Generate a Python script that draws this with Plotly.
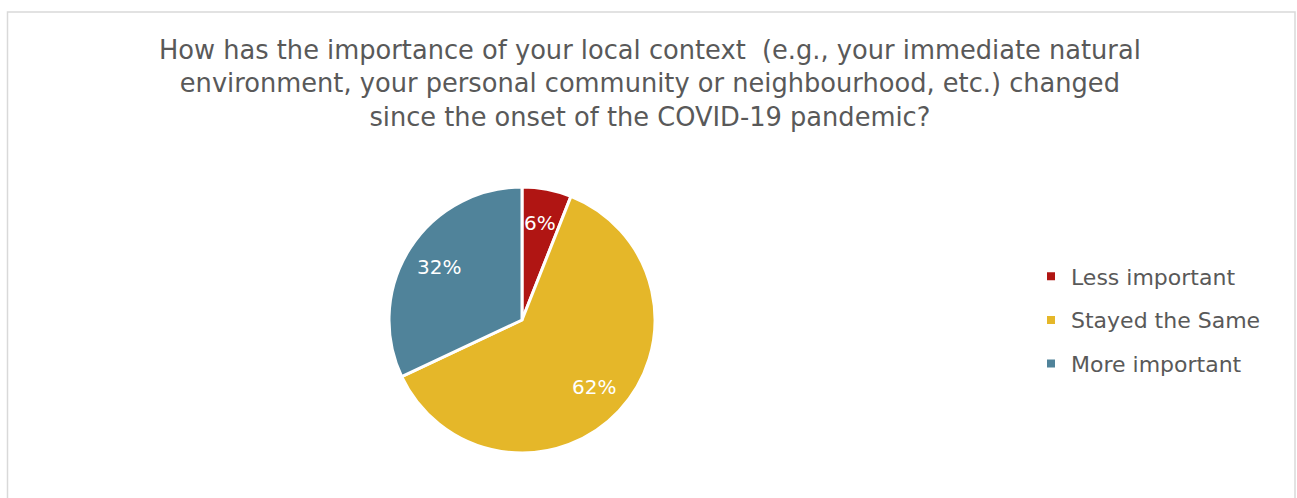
import math
import plotly.graph_objects as go

# Survey responses: change in importance of local context
categories = ["Less important", "Stayed the Same", "More important"]
shares = [6, 62, 32]
slice_colors = ["#B01513", "#E5B729", "#50839A"]

title_lines = [
    "How has the importance of your local context  (e.g., your immediate natural",
    "environment, your personal community or neighbourhood, etc.) changed",
    "since the onset of the COVID-19 pandemic?",
]

W, H = 1297, 498
FONT = "DejaVu Sans"
TEXT_GREY = "#595959"

# pie geometry in pixels
cx, cy, r = 522, 320, 133

fig = go.Figure()
fig.add_trace(
    go.Pie(
        labels=categories,
        values=shares,
        sort=False,
        direction="clockwise",
        rotation=0,
        marker=dict(colors=slice_colors, line=dict(color="white", width=3)),
        textinfo="none",
        showlegend=False,
        domain=dict(x=[(cx - r) / W, (cx + r) / W], y=[(H - cy - r) / H, (H - cy + r) / H]),
        hoverinfo="label+percent",
    )
)

# legend entries as invisible-axis scatter markers so the row spacing can be set
for name, color in zip(categories, slice_colors):
    fig.add_trace(
        go.Scatter(
            x=[None],
            y=[None],
            mode="markers",
            name=name,
            legendgroup=name,
            marker=dict(symbol="square", size=8, color=color),
        )
    )

# percentage labels placed along each slice's mid angle
annotations = []
total = sum(shares)
start = 0.0
for v in shares:
    mid = (start + v / 2) / total * 2 * math.pi
    start += v
    px = cx + 0.74 * r * math.sin(mid)
    py = cy - 0.74 * r * math.cos(mid)
    annotations.append(
        dict(
            x=px / W,
            y=1 - py / H,
            xref="paper",
            yref="paper",
            text=f"{v}%",
            showarrow=False,
            font=dict(family=FONT, size=20, color="white"),
            xanchor="center",
            yanchor="middle",
        )
    )

annotations.append(
    dict(
        x=650 / W,
        y=1 - 33 / H,
        xref="paper",
        yref="paper",
        text="<br>".join(title_lines),
        showarrow=False,
        xanchor="center",
        yanchor="top",
        align="center",
        font=dict(family=FONT, size=25.7, color=TEXT_GREY),
    )
)

fig.update_layout(
    width=W,
    height=H,
    margin=dict(l=0, r=0, t=0, b=0),
    paper_bgcolor="white",
    plot_bgcolor="white",
    font=dict(family=FONT, color=TEXT_GREY),
    xaxis=dict(visible=False),
    yaxis=dict(visible=False),
    annotations=annotations,
    legend=dict(
        x=1031 / W,
        xanchor="left",
        y=1 - 320 / H,
        yanchor="middle",
        font=dict(family=FONT, size=22, color=TEXT_GREY),
        tracegroupgap=12,
        itemwidth=30,
    ),
    shapes=[
        dict(
            type="rect",
            xref="paper",
            yref="paper",
            x0=7.5 / W,
            x1=1295 / W,
            y0=-0.05,
            y1=1 - 12 / H,
            line=dict(color="#D9D9D9", width=1.5),
            fillcolor="rgba(0,0,0,0)",
            layer="below",
        )
    ],
)

fig.write_html("out.html")
